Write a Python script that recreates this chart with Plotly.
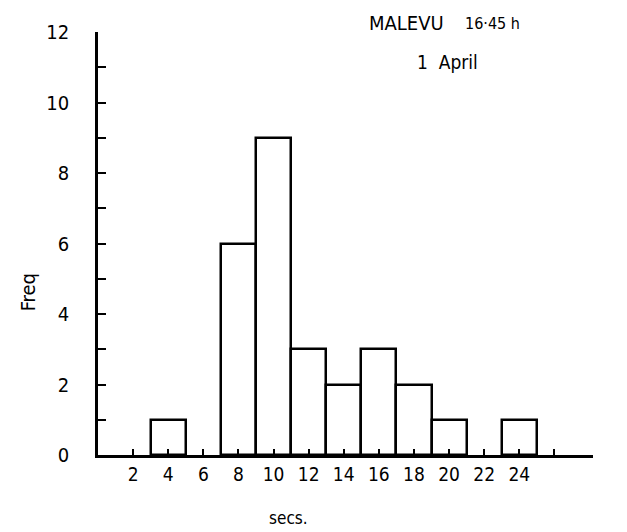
import plotly.graph_objects as go

# Data: bin centres (seconds) and frequencies
bin_centres = [2, 4, 6, 8, 10, 12, 14, 16, 18, 20, 22, 24, 26]
freq = [0, 1, 0, 6, 9, 3, 2, 3, 2, 1, 0, 1, 0]
bin_width = 2

x_tick_vals = [2, 4, 6, 8, 10, 12, 14, 16, 18, 20, 22, 24, 26]
x_tick_text = ["2", "4", "6", "8", "10", "12", "14", "16", "18", "20", "22", "24", ""]
y_tick_vals = list(range(0, 13))
y_tick_text = [str(v) if v % 2 == 0 else "" for v in y_tick_vals]

title_place = "MALEVU"
title_time = "16·45 h"
title_date = "1  April"

FONT = "Liberation Sans Narrow, DejaVu Sans Condensed, DejaVu Sans, sans-serif"

xs = [c for c, f in zip(bin_centres, freq) if f > 0]
ys = [f for f in freq if f > 0]

fig = go.Figure(
    go.Bar(
        x=xs,
        y=ys,
        width=bin_width,
        marker=dict(color="white", line=dict(color="black", width=2.5)),
        showlegend=False,
    )
)

fig.update_layout(
    width=619,
    height=524,
    margin=dict(l=90, r=34, t=19, b=77),
    paper_bgcolor="white",
    plot_bgcolor="white",
    font=dict(family=FONT, size=19, color="black"),
    bargap=0,
    xaxis=dict(
        range=[0, 28.2],
        showgrid=False,
        zeroline=False,
        showline=True,
        linecolor="black",
        linewidth=2.5,
        ticks="inside",
        ticklen=6,
        tickwidth=2,
        tickcolor="black",
        tickvals=x_tick_vals,
        ticktext=x_tick_text,
        tickfont=dict(size=19),
    ),
    yaxis=dict(
        range=[0, 12],
        showgrid=False,
        zeroline=False,
        showline=True,
        linecolor="black",
        linewidth=2.5,
        ticks="inside",
        ticklen=8,
        tickwidth=2,
        tickcolor="black",
        tickvals=y_tick_vals,
        ticktext=y_tick_text,
        ticklabelstandoff=22,
        tickfont=dict(size=20),
    ),
    annotations=[
        dict(text="Freq", x=-0.141, y=0.385, xref="paper", yref="paper",
             xanchor="center", yanchor="middle",
             textangle=-90, showarrow=False, font=dict(size=20)),
        dict(text="secs.", x=0.385, y=-0.148, xref="paper", yref="paper",
             xanchor="center", yanchor="middle",
             showarrow=False, font=dict(size=17)),
        dict(text=title_place, x=0.703, y=1.021, xref="paper", yref="paper",
             xanchor="right", yanchor="middle", showarrow=False, font=dict(size=20)),
        dict(text=title_time, x=0.737, y=1.021, xref="paper", yref="paper",
             xanchor="left", yanchor="middle", showarrow=False, font=dict(size=16)),
        dict(text=title_date, x=0.707, y=0.930, xref="paper", yref="paper",
             xanchor="center", yanchor="middle", showarrow=False, font=dict(size=19)),
    ],
)

fig.write_html("out.html")
